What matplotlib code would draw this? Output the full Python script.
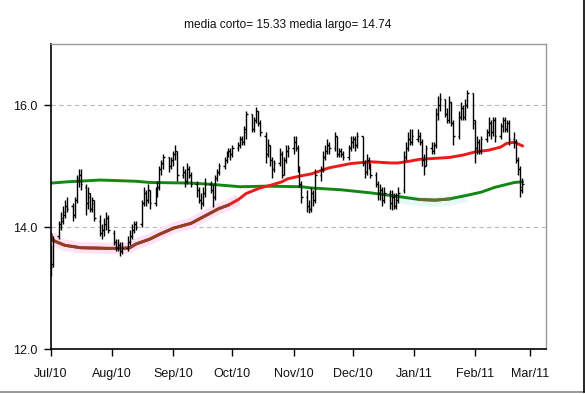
import matplotlib
matplotlib.use("Agg")
import matplotlib.pyplot as plt
import matplotlib.dates as mdates
from matplotlib.lines import Line2D
import pandas as pd
import numpy as np

# ---------------- data ----------------
trade_start = "2010-07-01"
trade_end = "2011-02-25"

opens = [
    # Jul 2010
    13.60, 13.40, 13.85, 14.05, 14.10, 14.20, 14.35, 14.35, 14.20, 14.45, 14.75,
    14.85, 14.65, 14.40, 14.50, 14.30, 14.40, 14.10, 13.90, 13.95, 14.05, 14.15,
    # Aug
    13.90, 13.75, 13.65, 13.70, 13.60, 13.65, 13.75, 13.85, 13.95, 14.05, 14.05,
    14.40, 14.55, 14.45, 14.60, 14.40, 14.55, 14.65, 14.95, 15.05, 15.15, 15.00,
    # Sep
    15.10, 15.20, 15.20, 14.85, 14.90, 14.75, 14.95, 14.85, 14.70, 14.60, 14.45,
    14.40, 14.55, 14.70, 14.60, 14.50, 14.80, 14.90, 15.00, 15.10, 15.20, 15.25,
    # Oct
    15.20, 15.30, 15.35, 15.45, 15.40, 15.55, 15.85, 15.60, 15.75, 15.90, 15.70,
    15.50, 15.20, 15.35, 15.10, 14.95, 15.05, 15.20, 14.85, 15.10, 15.25,
    # Nov
    15.30, 15.40, 15.30, 14.95, 14.70, 14.50, 14.35, 14.30, 14.55, 14.45, 14.85,
    14.95, 15.15, 15.25, 15.35, 15.30, 15.50, 15.20, 15.25, 15.20, 15.15, 15.30,
    # Dec
    15.40, 15.45, 15.35, 15.50, 15.05, 14.90, 15.10, 15.00, 14.85, 14.70, 14.55,
    14.60, 14.45, 14.55, 14.40, 14.50, 14.35, 14.45, 14.60, 15.15, 15.30, 15.45, 15.40,
    # Jan 2011
    15.45, 15.50, 15.40, 15.10, 15.00, 15.30, 15.25, 15.35, 15.85, 16.00, 16.10,
    15.85, 15.75, 16.05, 15.70, 15.50, 15.80, 15.95, 15.80, 16.00, 16.20,
    # Feb
    15.70, 15.30, 15.40, 15.25, 15.45, 15.55, 15.70, 15.55, 15.75, 15.50, 15.65,
    15.75, 15.60, 15.70, 15.45, 15.40, 15.10, 14.95, 14.65,
]

highs = [
    13.70, 13.85, 14.10, 14.25, 14.35, 14.45, 14.50, 14.40, 14.50, 14.85, 14.95,
    14.95, 14.70, 14.65, 14.55, 14.50, 14.45, 14.20, 14.05, 14.15, 14.25, 14.20,
    13.95, 13.80, 13.80, 13.75, 13.75, 13.85, 13.95, 14.05, 14.10, 14.10, 14.45,
    14.65, 14.60, 14.70, 14.60, 14.65, 14.75, 15.00, 15.10, 15.20, 15.15, 15.15,
    15.25, 15.35, 15.25, 15.00, 14.95, 15.05, 15.00, 14.90, 14.75, 14.65, 14.55,
    14.65, 14.80, 14.75, 14.70, 14.85, 14.95, 15.05, 15.15, 15.25, 15.30, 15.30,
    15.35, 15.40, 15.50, 15.50, 15.65, 15.90, 15.85, 15.80, 15.97, 15.90, 15.75,
    15.55, 15.45, 15.35, 15.15, 15.10, 15.30, 15.25, 15.15, 15.35, 15.35,
    15.50, 15.50, 15.35, 15.00, 14.75, 14.60, 14.45, 14.65, 14.60, 14.95, 15.00,
    15.25, 15.35, 15.45, 15.40, 15.55, 15.50, 15.30, 15.30, 15.25, 15.35, 15.50,
    15.50, 15.50, 15.55, 15.50, 15.10, 15.20, 15.15, 15.05, 14.90, 14.75, 14.70,
    14.65, 14.65, 14.60, 14.60, 14.55, 14.55, 14.65, 15.25, 15.40, 15.55, 15.60, 15.60,
    15.60, 15.55, 15.45, 15.20, 15.35, 15.40, 15.40, 15.95, 16.15, 16.20, 16.10,
    15.95, 16.15, 16.05, 15.75, 15.90, 16.05, 16.00, 16.10, 16.25, 16.20,
    15.75, 15.50, 15.45, 15.50, 15.60, 15.80, 15.75, 15.80, 15.80, 15.70, 15.80,
    15.80, 15.75, 15.75, 15.55, 15.45, 15.15, 15.00, 14.80,
]

lows = [
    13.20, 13.35, 13.80, 13.95, 14.05, 14.15, 14.25, 14.10, 14.15, 14.40, 14.65,
    14.60, 14.20, 14.30, 14.25, 14.25, 14.10, 13.85, 13.80, 13.85, 13.95, 13.90,
    13.70, 13.60, 13.60, 13.52, 13.55, 13.60, 13.70, 13.80, 13.90, 13.95, 14.00,
    14.35, 14.35, 14.40, 14.30, 14.35, 14.50, 14.60, 14.85, 14.95, 14.90, 14.95,
    15.00, 15.10, 14.75, 14.80, 14.65, 14.70, 14.80, 14.65, 14.50, 14.40, 14.30,
    14.35, 14.50, 14.55, 14.33, 14.45, 14.75, 14.85, 14.95, 15.05, 15.15, 15.10,
    15.15, 15.25, 15.30, 15.35, 15.35, 15.45, 15.55, 15.55, 15.70, 15.65, 15.50,
    15.05, 15.15, 15.00, 14.80, 14.90, 15.00, 14.80, 14.85, 15.05, 15.15,
    15.20, 15.25, 14.90, 14.65, 14.40, 14.25, 14.23, 14.25, 14.35, 14.40, 14.75,
    14.90, 15.10, 15.20, 15.20, 15.25, 15.15, 15.15, 15.15, 15.10, 15.10, 15.25,
    15.30, 15.25, 15.30, 15.00, 14.80, 14.85, 14.95, 14.80, 14.65, 14.45, 14.45,
    14.35, 14.40, 14.30, 14.28, 14.30, 14.30, 14.40, 14.55, 15.10, 15.25, 15.35, 15.35,
    15.40, 15.35, 15.00, 14.85, 15.00, 15.20, 15.20, 15.30, 15.75, 15.90, 15.80,
    15.70, 15.70, 15.65, 15.35, 15.45, 15.75, 15.75, 15.75, 15.95, 15.60,
    15.05, 15.20, 15.20, 15.20, 15.40, 15.50, 15.45, 15.50, 15.40, 15.45, 15.55,
    15.55, 15.55, 15.35, 15.30, 15.05, 14.85, 14.50, 14.55,
]

closes = [
    13.35, 13.80, 14.00, 14.15, 14.25, 14.35, 14.30, 14.20, 14.45, 14.80, 14.85,
    14.70, 14.40, 14.55, 14.30, 14.45, 14.15, 13.90, 13.95, 14.05, 14.15, 13.95,
    13.75, 13.65, 13.70, 13.60, 13.65, 13.75, 13.85, 13.95, 14.05, 14.00, 14.40,
    14.55, 14.45, 14.60, 14.40, 14.55, 14.65, 14.95, 15.05, 15.15, 15.00, 15.10,
    15.20, 15.25, 14.85, 14.90, 14.75, 14.95, 14.85, 14.70, 14.60, 14.45, 14.40,
    14.55, 14.70, 14.60, 14.50, 14.80, 14.90, 15.00, 15.10, 15.20, 15.25, 15.20,
    15.30, 15.35, 15.45, 15.40, 15.60, 15.85, 15.60, 15.75, 15.90, 15.70, 15.55,
    15.20, 15.35, 15.10, 14.95, 15.05, 15.20, 14.85, 15.10, 15.25, 15.30,
    15.40, 15.30, 14.95, 14.70, 14.50, 14.35, 14.30, 14.55, 14.45, 14.85, 14.95,
    15.15, 15.25, 15.35, 15.30, 15.50, 15.20, 15.25, 15.20, 15.15, 15.30, 15.40,
    15.45, 15.35, 15.50, 15.05, 14.90, 15.10, 15.00, 14.85, 14.70, 14.55, 14.60,
    14.45, 14.55, 14.40, 14.50, 14.35, 14.45, 14.55, 15.15, 15.30, 15.45, 15.40, 15.50,
    15.50, 15.40, 15.10, 15.00, 15.30, 15.25, 15.35, 15.85, 16.00, 16.10, 15.85,
    15.75, 16.05, 15.70, 15.50, 15.80, 15.95, 15.80, 16.00, 16.20, 15.75,
    15.30, 15.40, 15.25, 15.45, 15.55, 15.70, 15.55, 15.75, 15.50, 15.65, 15.75,
    15.60, 15.70, 15.45, 15.40, 15.10, 14.95, 14.60, 14.70,
]

# short moving average
short_dates = ["2010-07-01", "2010-07-02", "2010-07-08", "2010-07-16", "2010-07-30",
               "2010-08-06", "2010-08-10", "2010-08-13", "2010-08-20", "2010-08-25",
               "2010-09-01", "2010-09-10", "2010-09-17", "2010-09-24", "2010-09-29",
               "2010-10-04", "2010-10-08", "2010-10-15", "2010-10-21", "2010-10-26",
               "2010-10-29", "2010-11-05", "2010-11-10", "2010-11-19", "2010-11-30",
               "2010-12-10", "2010-12-20", "2010-12-24", "2010-12-30", "2011-01-04",
               "2011-01-19", "2011-01-26", "2011-02-01", "2011-02-08", "2011-02-14",
               "2011-02-17", "2011-02-21", "2011-02-25"]
short_ma = [13.88, 13.78, 13.70, 13.66, 13.65,
            13.65, 13.66, 13.72, 13.80, 13.88,
            13.98, 14.06, 14.18, 14.30, 14.36,
            14.45, 14.55, 14.64, 14.69, 14.74,
            14.79, 14.84, 14.87, 14.97, 15.04,
            15.07, 15.05, 15.05, 15.08, 15.11,
            15.14, 15.18, 15.23, 15.26, 15.31,
            15.37, 15.39, 15.33]

# long moving average
long_dates = ["2010-07-01", "2010-07-09", "2010-07-26", "2010-08-13", "2010-08-20",
              "2010-09-10", "2010-09-20", "2010-10-05", "2010-10-18", "2010-11-05",
              "2010-11-10", "2010-11-25", "2010-12-10", "2010-12-24", "2011-01-04",
              "2011-01-12", "2011-01-19", "2011-01-28", "2011-02-04", "2011-02-11",
              "2011-02-21", "2011-02-25"]
long_ma = [14.72, 14.74, 14.77, 14.75, 14.73,
           14.72, 14.70, 14.66, 14.67, 14.66,
           14.64, 14.61, 14.56, 14.50, 14.45,
           14.44, 14.46, 14.52, 14.57, 14.65,
           14.73, 14.74]

title_text = "media corto= 15.33 media largo= 14.74"
y_ticks = [12.0, 14.0, 16.0]
month_ticks = ["2010-07-01", "2010-08-01", "2010-09-01", "2010-10-01", "2010-11-01",
               "2010-12-01", "2011-01-01", "2011-02-01", "2011-03-01"]
x_range = ["2010-07-01", "2011-03-09"]
y_range = [12.0, 17.0]

# ---------------- figure ----------------
plt.rcParams["font.family"] = ["Liberation Sans", "DejaVu Sans"]
fig = plt.figure(figsize=(5.85, 3.94), dpi=100)
fig.patch.set_facecolor("white")
ax = fig.add_axes([51 / 585, 1 - 349 / 394, (546 - 51) / 585, (349 - 44) / 394])

dates = pd.bdate_range(trade_start, trade_end)
xd = mdates.date2num(dates.to_pydatetime())
o = np.array(opens); h = np.array(highs); l = np.array(lows); c = np.array(closes)

# grid
for yv in y_ticks[1:]:
    ax.axhline(yv, color="#b8b8b8", lw=0.8, ls=(0, (4, 3)), zorder=0)

# moving averages
sd = mdates.date2num(pd.to_datetime(short_dates).to_pydatetime())
ld = mdates.date2num(pd.to_datetime(long_dates).to_pydatetime())
sm = np.array(short_ma); lm = np.array(long_ma)

early = sd <= mdates.date2num(pd.Timestamp("2010-10-04"))
ax.plot(sd[early], sm[early], color="#fde2f6", lw=8, solid_capstyle="butt", zorder=1)
mid = (ld >= mdates.date2num(pd.Timestamp("2010-12-24"))) & (ld <= mdates.date2num(pd.Timestamp("2011-01-28")))
ax.plot(ld[mid], lm[mid] - 0.03, color="#e6f7f7", lw=7, solid_capstyle="butt", zorder=1)

ax.plot(ld, lm, color="#118811", lw=2.1, zorder=2)
ax.plot(ld[mid][1:-1], lm[mid][1:-1], color="#6f6a2a", lw=2.1, zorder=2)
ax.plot(sd, sm, color="#f01818", lw=2.1, zorder=2)
brown = sd <= mdates.date2num(pd.Timestamp("2010-09-29"))
ax.plot(sd[brown], sm[brown], color="#8e4026", lw=2.1, zorder=2)

# OHLC bars
tw = 0.75
ax.vlines(xd, l, h, color="black", lw=1.0, zorder=3)
ax.hlines(o, xd - tw, xd, color="black", lw=1.0, zorder=3)
ax.hlines(c, xd, xd + tw, color="black", lw=1.0, zorder=3)

# axes styling
ax.set_xlim(mdates.date2num(pd.Timestamp(x_range[0])), mdates.date2num(pd.Timestamp(x_range[1])))
ax.set_ylim(*y_range)
ax.set_yticks(y_ticks)
ax.set_yticklabels([f"{v:.1f}" for v in y_ticks])
mt = mdates.date2num(pd.to_datetime(month_ticks).to_pydatetime())
ax.set_xticks(mt)
ax.set_xticklabels([pd.Timestamp(m).strftime("%b/%y") for m in month_ticks])

for side in ["top", "right"]:
    ax.spines[side].set_color("#9a9a9a")
    ax.spines[side].set_linewidth(1.0)
for side in ["left", "bottom"]:
    ax.spines[side].set_color("black")
    ax.spines[side].set_linewidth(1.2)

ax.tick_params(axis="both", direction="out", length=5, width=1.0, color="black",
               labelsize=9, labelcolor="#111111")
ax.tick_params(axis="x", pad=9)
ax.tick_params(axis="y", pad=5)

fig.text(288 / 585, 1 - 25 / 394, title_text, ha="center", va="center",
         fontsize=8.6, color="#111111")

# outer frame lines of the original image
fig.add_artist(Line2D([0, 1], [1 - 391.5 / 394] * 2, transform=fig.transFigure,
                      color="#888888", lw=1.2))
fig.add_artist(Line2D([583.5 / 585] * 2, [1 - 391.5 / 394, 1], transform=fig.transFigure,
                      color="black", lw=1.2))

fig.savefig("out.png", dpi=100, facecolor="white")
